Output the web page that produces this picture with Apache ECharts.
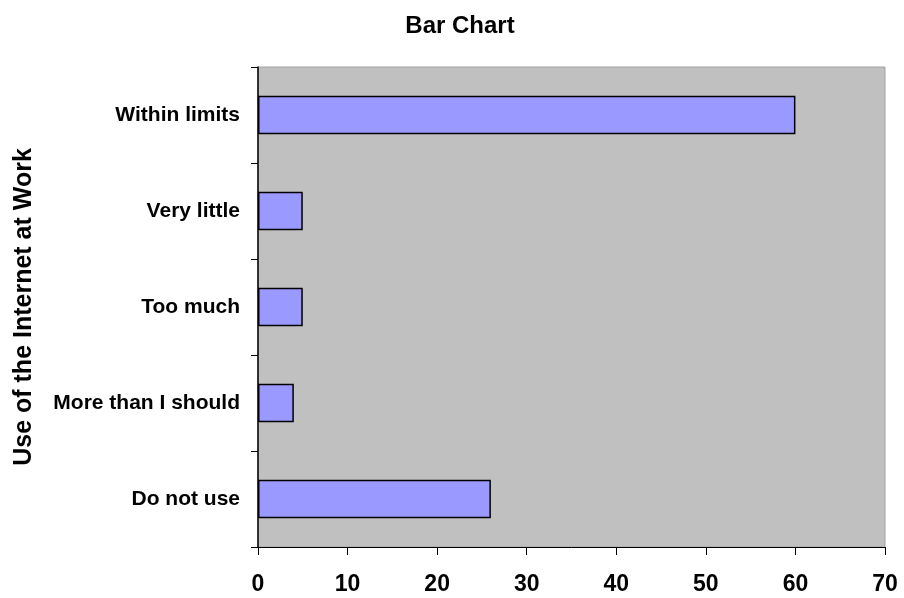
<!DOCTYPE html>
<html>
<head>
<meta charset="utf-8">
<script src="https://cdn.jsdelivr.net/npm/echarts@6/dist/echarts.min.js"></script>
<style>
  html, body { margin: 0; padding: 0; background: #ffffff; }
  #chart { width: 904px; height: 598px; }
</style>
</head>
<body>
<div id="chart"></div>
<script>
// Responses, listed bottom to top
const categories = ['Do not use', 'More than I should', 'Too much', 'Very little', 'Within limits'];
const counts = [26, 4, 5, 5, 60];
const xTicks = [0, 10, 20, 30, 40, 50, 60, 70];

const FONT = '"Liberation Sans", Arial, sans-serif';
const chart = echarts.init(document.getElementById('chart'));

chart.setOption({
  animation: false,
  title: {
    text: 'Bar Chart',
    left: 455,
    top: 9,
    textAlign: 'center',
    textStyle: { fontFamily: FONT, fontSize: 24, fontWeight: 'bold', color: '#000' }
  },
  grid: {
    left: 258, top: 67, width: 627, height: 480,
    show: true,
    backgroundColor: '#c0c0c0',
    borderColor: '#a0a0a0',
    borderWidth: 1
  },
  xAxis: {
    type: 'value',
    min: xTicks[0],
    max: xTicks[xTicks.length - 1],
    interval: 10,
    splitLine: { show: false },
    axisLine: { show: true, lineStyle: { color: '#000', width: 1 } },
    axisTick: { show: true, length: 8, lineStyle: { color: '#000' } },
    axisLabel: {
      margin: 26,
      fontFamily: FONT, fontSize: 23, fontWeight: 'bold', color: '#000'
    }
  },
  yAxis: {
    type: 'category',
    data: categories,
    name: 'Use of the Internet at Work',
    nameLocation: 'middle',
    nameGap: 221,
    nameRotate: 90,
    nameTextStyle: { fontFamily: FONT, fontSize: 25, fontWeight: 'bold', color: '#000' },
    axisLine: { show: true, lineStyle: { color: '#000', width: 1.5 } },
    axisTick: { show: true, length: 7, lineStyle: { color: '#000' } },
    axisLabel: {
      margin: 18,
      fontFamily: FONT, fontSize: 21, fontWeight: 'bold', color: '#000'
    },
    splitLine: { show: false }
  },
  series: [{
    type: 'bar',
    data: counts,
    barWidth: '40%',
    itemStyle: { color: '#9999ff', borderColor: '#000', borderWidth: 1.5 }
  }]
});
</script>
</body>
</html>
